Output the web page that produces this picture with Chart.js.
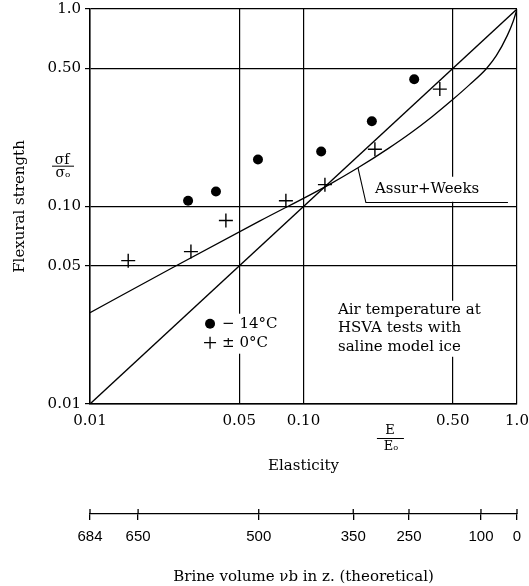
<!DOCTYPE html>
<html>
<head>
<meta charset="utf-8">
<script src="https://cdn.jsdelivr.net/npm/chart.js@4"></script>
<style>
  html, body { margin: 0; padding: 0; background: #fff; }
  #wrap { width: 529px; height: 586px; }
</style>
</head>
<body>
<div id="wrap"><canvas id="chart"></canvas></div>
<script>
// tick values and labels
const logTicks = [0.01, 0.05, 0.1, 0.5, 1.0];
const logTickLabels = ['0.01', '0.05', '0.10', '0.50', '1.0'];
const brineVolumes = [684, 650, 500, 350, 250, 100, 0];
const brineAtElasticity = [0.01, 0.0168, 0.0617, 0.171, 0.312, 0.678, 1.0];

// -14°C (filled circles)
const coldE = [0.0288, 0.0389, 0.0612, 0.121, 0.209, 0.330];
const coldS = [0.107, 0.119, 0.173, 0.190, 0.270, 0.441];
// ±0°C (crosses)
const warmE = [0.0151, 0.0297, 0.0433, 0.0827, 0.126, 0.216, 0.435];
const warmS = [0.0532, 0.0591, 0.0849, 0.107, 0.129, 0.195, 0.393];

// Assur + Weeks curve
const assurE = [0.01, 0.0242, 0.0625, 0.13, 0.18, 0.25, 0.32, 0.4, 0.5, 0.6, 0.72, 0.8, 0.9, 0.96, 1.0];
const assurS = [0.029, 0.0488, 0.0845, 0.128, 0.157, 0.197, 0.237, 0.285, 0.348, 0.414, 0.5, 0.58, 0.733, 0.867, 1.0];

// diagonal
const diagE = [0.01, 1.0];
const diagS = [0.01, 1.0];

const toPts = (xs, ys) => xs.map((x, i) => ({ x: x, y: ys[i] }));

const SERIF = '"DejaVu Serif", serif';

function setTicks(values) {
  return function(scale) {
    scale.ticks = values.map(v => ({ value: v }));
  };
}

// annotation text, anchored in data units
const notes = {
  id: 'notes',
  beforeDatasetsDraw(chart) {
    const ctx = chart.ctx, x = chart.scales.x, y = chart.scales.y;
    ctx.save();
    ctx.fillStyle = '#fff';
    // gaps in the grid behind the labels
    let lx = x.getPixelForValue(0.0365), ly = y.getPixelForValue(0.0255);
    ctx.fillRect(lx - 8, ly - 10, 82, 40);
    let ax = x.getPixelForValue(0.145), ay = y.getPixelForValue(0.030);
    ctx.fillRect(ax - 3, ay - 9, 165, 56);
    let tx = x.getPixelForValue(0.216), ty = y.getPixelForValue(0.123);
    ctx.fillRect(tx - 4, ty - 12, 135, 25);
    ctx.restore();
  },
  afterDatasetsDraw(chart) {
    const ctx = chart.ctx, x = chart.scales.x, y = chart.scales.y;
    const area = chart.chartArea;
    ctx.save();
    ctx.fillStyle = '#000';
    ctx.strokeStyle = '#000';
    ctx.textBaseline = 'middle';

    // legend
    ctx.font = '15px ' + SERIF;
    ctx.textAlign = 'left';
    let lx = x.getPixelForValue(0.0365), ly = y.getPixelForValue(0.0255);
    ctx.beginPath();
    ctx.arc(lx, ly, 5, 0, Math.PI * 2);
    ctx.fill();
    ctx.fillText('\u2212 14\u00b0C', lx + 12, ly);
    ctx.lineWidth = 1.3;
    ctx.beginPath();
    ctx.moveTo(lx - 6, ly + 19); ctx.lineTo(lx + 6, ly + 19);
    ctx.moveTo(lx, ly + 13); ctx.lineTo(lx, ly + 25);
    ctx.stroke();
    ctx.fillText('\u00b1 0\u00b0C', lx + 12, ly + 19);

    // note box
    let ax = x.getPixelForValue(0.145), ay = y.getPixelForValue(0.030);
    ['Air temperature at', 'HSVA tests with', 'saline model ice'].forEach((t, i) => {
      ctx.fillText(t, ax, ay + i * 18.5);
    });

    // Assur + Weeks label with leader
    const p0x = x.getPixelForValue(0.18), p0y = y.getPixelForValue(0.157);
    const p1x = x.getPixelForValue(0.196), p1y = y.getPixelForValue(0.1047);
    const p2x = x.getPixelForValue(0.907);
    ctx.lineWidth = 1.1;
    ctx.beginPath();
    ctx.moveTo(p0x, p0y); ctx.lineTo(p1x, p1y); ctx.lineTo(p2x, p1y);
    ctx.stroke();
    let tx = x.getPixelForValue(0.216), ty = y.getPixelForValue(0.123);
    ctx.fillText('Assur+Weeks', tx, ty);

    // E / Eo fraction under the x axis
    ctx.textAlign = 'center';
    ctx.font = '13px ' + SERIF;
    const fx = x.getPixelForValue(0.254);
    ctx.fillText('E', fx, area.bottom + 27);
    ctx.fillText('E\u2092', fx + 1, area.bottom + 43);
    ctx.lineWidth = 1;
    ctx.beginPath();
    ctx.moveTo(fx - 13, area.bottom + 34.5); ctx.lineTo(fx + 14, area.bottom + 34.5);
    ctx.stroke();

    // sigma fraction next to the y axis
    ctx.font = '14px ' + SERIF;
    ctx.fillText('\u03c3f', 62, y.getPixelForValue(0.171));
    ctx.fillText('\u03c3\u2092', 63, y.getPixelForValue(0.148));
    const sy = y.getPixelForValue(0.160);
    ctx.beginPath();
    ctx.moveTo(52, sy); ctx.lineTo(74, sy);
    ctx.stroke();

    // brine scale: tick marks above the line
    const b = chart.scales.x2;
    ctx.lineWidth = 1.3;
    ctx.beginPath();
    brineAtElasticity.forEach(v => {
      const px = b.getPixelForValue(v);
      ctx.moveTo(px, b.top - 5); ctx.lineTo(px, b.top);
    });
    ctx.stroke();
    ctx.restore();
  }
};

new Chart(document.getElementById('chart'), {
  type: 'scatter',
  data: {
    datasets: [
      {
        label: 'diagonal',
        data: toPts(diagE, diagS),
        showLine: true,
        borderColor: '#000',
        borderWidth: 1.3,
        pointRadius: 0
      },
      {
        label: 'Assur+Weeks',
        data: toPts(assurE, assurS),
        showLine: true,
        cubicInterpolationMode: 'monotone',
        borderColor: '#000',
        borderWidth: 1.3,
        pointRadius: 0
      },
      {
        label: '\u2212 14\u00b0C',
        data: toPts(coldE, coldS),
        pointStyle: 'circle',
        pointRadius: 5,
        backgroundColor: '#000',
        borderColor: '#000',
        borderWidth: 0
      },
      {
        label: '\u00b1 0\u00b0C',
        data: toPts(warmE, warmS),
        pointStyle: 'cross',
        pointRadius: 7,
        borderColor: '#000',
        borderWidth: 1.4
      }
    ]
  },
  options: {
    responsive: true,
    maintainAspectRatio: false,
    animation: false,
    layout: { padding: { top: 0, right: 0, left: 0, bottom: 0 } },
    plugins: {
      legend: { display: false },
      tooltip: { enabled: false }
    },
    scales: {
      x: {
        type: 'logarithmic',
        position: 'bottom',
        weight: 0,
        min: 0.01,
        max: 1,
        afterBuildTicks: setTicks(logTicks),
        afterFit: s => { s.height = 110; s.paddingLeft = 0; s.paddingRight = 12; },
        ticks: {
          color: '#000',
          font: { family: SERIF, size: 15 },
          padding: 8,
          maxRotation: 0,
          autoSkip: false,
          callback: v => logTickLabels[logTicks.indexOf(v)]
        },
        grid: { color: '#000', lineWidth: 1.2, drawTicks: false },
        border: { color: '#000', width: 1.5 },
        title: {
          display: true,
          text: 'Elasticity',
          color: '#000',
          font: { family: SERIF, size: 15 },
          padding: { top: 0, bottom: 39 }
        }
      },
      x2: {
        type: 'logarithmic',
        position: 'bottom',
        weight: 1,
        min: 0.01,
        max: 1,
        afterBuildTicks: setTicks(brineAtElasticity),
        afterFit: s => { s.paddingLeft = 0; s.paddingRight = 0; },
        ticks: {
          color: '#000',
          font: { family: '"Liberation Sans", sans-serif', size: 15 },
          padding: 8,
          maxRotation: 0,
          autoSkip: false,
          callback: (v, i) => String(brineVolumes[i])
        },
        grid: { drawOnChartArea: false, color: '#000', lineWidth: 1.3, tickLength: 6 },
        border: { color: '#000', width: 1.3 },
        title: {
          display: true,
          text: 'Brine volume \u03bdb in z. (theoretical)',
          color: '#000',
          font: { family: SERIF, size: 15 },
          padding: { top: 14, bottom: 0 }
        }
      },
      y: {
        type: 'logarithmic',
        min: 0.01,
        max: 1,
        afterBuildTicks: setTicks(logTicks),
        afterFit: s => { s.width = 90; s.paddingTop = 9; s.paddingBottom = 0; },
        ticks: {
          color: '#000',
          font: { family: SERIF, size: 15 },
          padding: 4,
          autoSkip: false,
          callback: v => logTickLabels[logTicks.indexOf(v)]
        },
        grid: { color: '#000', lineWidth: 1.2, tickLength: 5 },
        border: { color: '#000', width: 1.5 },
        title: {
          display: true,
          text: 'Flexural strength',
          color: '#000',
          font: { family: SERIF, size: 15 },
          padding: { top: 11, bottom: 0 }
        }
      }
    }
  },
  plugins: [notes]
});
</script>
</body>
</html>
